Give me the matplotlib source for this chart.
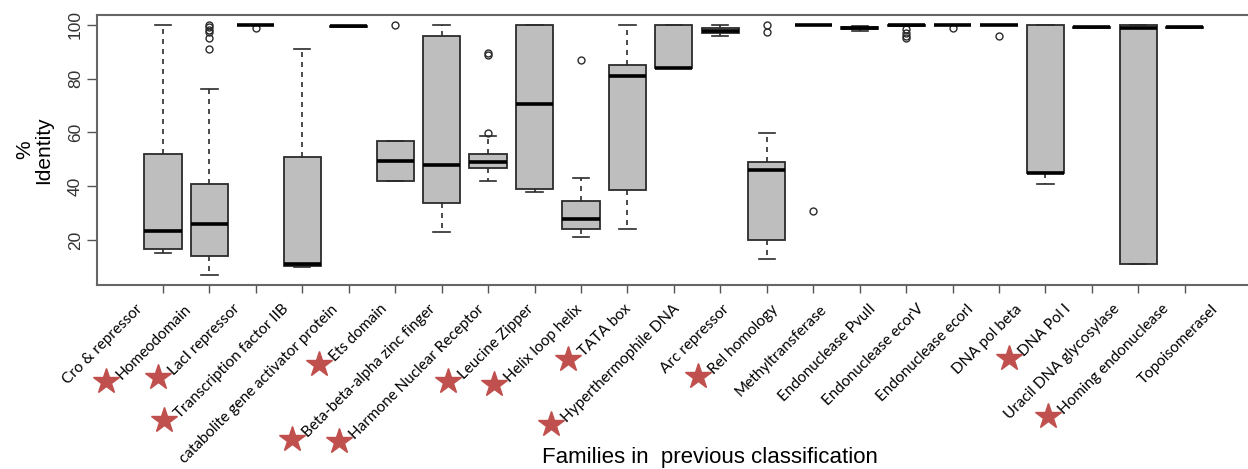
import matplotlib
matplotlib.use("Agg")
import matplotlib.pyplot as plt
from matplotlib.lines import Line2D
from matplotlib.transforms import ScaledTranslation

# families in previous classification, left to right
families = [
    "Cro & repressor", "Homeodomain", "LacI repressor", "Transcription factor IIB",
    "catabolite gene activator protein", "Ets domain", "Beta-beta-alpha zinc finger",
    "Harmone Nuclear Receptor", "Leucine Zipper", "Helix loop helix", "TATA box",
    "Hyperthermophile DNA", "Arc repressor", "Rel homology", "Methyltransferase",
    "Endonuclease PvuII", "Endonuclease ecorV", "Endonuclease ecorI", "DNA pol beta",
    "DNA Pol I", "Uracil DNA glycosylase", "Homing endonuclease", "TopoisomeraseI",
]
starred = [False, True, True, True, False, True, True, True, True, True, True,
           True, False, True, False, False, False, False, False, True, False, True, False]

# box statistics (% identity)
q1 = [16.7, 13.9, 99.8, 10.4, 99.2, 42.1, 33.8, 46.9, 39.0, 24.0, 38.5, 83.9,
      97.1, 20.0, 99.9, 98.6, 99.6, 99.9, 99.9, 44.9, 98.9, 11.0, 98.9]
medians = [23.3, 26.0, 100.0, 11.0, 99.5, 49.5, 48.0, 49.1, 70.5, 27.8, 80.9, 83.9,
           97.9, 46.0, 100.0, 99.0, 100.0, 100.0, 100.0, 44.9, 99.1, 98.8, 99.1]
q3 = [52.0, 41.0, 100.0, 51.0, 99.7, 56.8, 95.9, 52.0, 100.0, 34.5, 85.0, 100.0,
      98.8, 49.0, 100.0, 99.3, 100.0, 100.0, 100.0, 100.0, 99.3, 100.0, 99.3]
whislo = [15.0, 7.0, 99.8, 10.0, 99.2, 42.1, 22.9, 42.1, 37.8, 21.0, 24.0, 83.9,
          96.0, 12.9, 99.9, 97.8, 99.5, 99.9, 99.9, 41.0, 98.9, 11.0, 98.9]
whishi = [100.0, 76.1, 100.0, 91.1, 99.7, 56.8, 100.0, 58.7, 100.0, 43.0, 100.0, 100.0,
          100.0, 59.9, 100.0, 99.5, 100.0, 100.0, 100.0, 100.0, 99.3, 100.0, 99.3]
outliers = [
    [], [91.0, 95.0, 97.3, 98.1, 99.1, 100.0], [98.8], [], [], [100.0], [],
    [59.9, 88.8, 89.7], [], [86.9], [], [], [], [97.5, 100.0], [30.8], [],
    [95.0, 96.0, 97.0, 98.4], [98.8], [95.9], [], [], [], [],
]
yticks = [20, 40, 60, 80, 100]

stats = []
for i, name in enumerate(families):
    stats.append(dict(label=name, q1=q1[i], med=medians[i], q3=q3[i],
                      whislo=whislo[i], whishi=whishi[i], fliers=outliers[i]))

fig = plt.figure(figsize=(12.48, 4.69), dpi=100)
ax = fig.add_axes([0.0777, 0.3923, 0.9275, 0.5757])
positions = list(range(1, len(families) + 1))
edge = "#2b2b2b"
ax.bxp(
    stats, positions=positions, widths=0.8, patch_artist=True, capwidths=0.35,
    boxprops=dict(facecolor="#bebebe", edgecolor=edge, linewidth=1.3),
    medianprops=dict(color="black", linewidth=2.6, solid_capstyle="butt"),
    whiskerprops=dict(color=edge, linewidth=1.2, linestyle=(0, (3, 3))),
    capprops=dict(color=edge, linewidth=1.2),
    flierprops=dict(marker="o", markerfacecolor="none", markeredgecolor=edge,
                    markersize=5, markeredgewidth=1),
)
ax.set_xlim(-0.42, 24.5)
ax.set_ylim(3.26, 103.7)

for side in ["left", "top", "bottom", "right"]:
    ax.spines[side].set_color("#666666")
    ax.spines[side].set_linewidth(1.5)

ax.set_yticks(yticks)
ax.set_yticklabels([str(v) for v in yticks], rotation=90, va="center",
                   family="Liberation Sans", fontsize=12.5, color="#333333")
ax.tick_params(axis="y", length=7, width=1, color="#555555", pad=3)
ax.set_xticks(positions)
ax.set_xticklabels([])
ax.tick_params(axis="x", length=6, width=1, color="#555555")

ax.set_ylabel("%\nIdentity", family="Liberation Sans", fontsize=15, labelpad=11,
              linespacing=1.0)

# the family names were laid out a little wider apart than the boxes
label_step = 1.0527
label_start = 0.699
offset = ScaledTranslation(-0.14, -0.17, fig.dpi_scale_trans)
label_texts = []
for i, name in enumerate(families):
    t = ax.text(label_start + label_step * i, 0, name,
                transform=ax.get_xaxis_transform() + offset,
                rotation=45, rotation_mode="anchor", ha="right", va="top",
                family=["Lato", "DejaVu Sans"], fontsize=11, color="black")
    label_texts.append(t)

fig.text(0.569, 0.025, "Families in  previous classification", ha="center",
         va="center", family="Liberation Sans", fontsize=16)

# stars in front of the families that were regrouped
fig.canvas.draw()
renderer = fig.canvas.get_renderer()
to_fig = fig.transFigure.inverted()
for t, flag in zip(label_texts, starred):
    if not flag:
        continue
    bb = t.get_window_extent(renderer)
    fx, fy = to_fig.transform((bb.x0 - 8, bb.y0 + 1))
    fig.add_artist(Line2D([fx], [fy], transform=fig.transFigure, marker="*",
                          markersize=19, color="#c0504d", linestyle="none"))

fig.savefig("out.png", dpi=100)
